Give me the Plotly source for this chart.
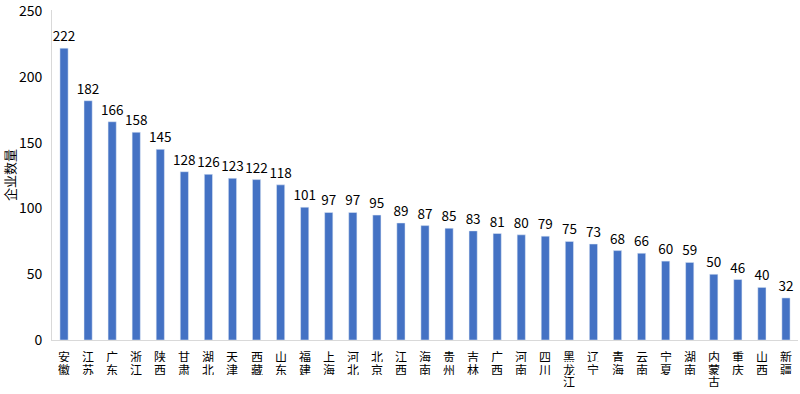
import plotly.graph_objects as go

provinces = ["安徽", "江苏", "广东", "浙江", "陕西", "甘肃", "湖北", "天津", "西藏", "山东",
             "福建", "上海", "河北", "北京", "江西", "海南", "贵州", "吉林", "广西", "河南",
             "四川", "黑龙江", "辽宁", "青海", "云南", "宁夏", "湖南", "内蒙古", "重庆", "山西", "新疆"]
counts = [222, 182, 166, 158, 145, 128, 126, 123, 122, 118,
          101, 97, 97, 95, 89, 87, 85, 83, 81, 80,
          79, 75, 73, 68, 66, 60, 59, 50, 46, 40, 32]
y_ticks = [0, 50, 100, 150, 200, 250]
y_title = "企业数量"

font_family = "Noto Sans CJK SC, Microsoft YaHei, sans-serif"

fig = go.Figure(go.Bar(
    x=list(range(len(provinces))),
    y=counts,
    marker_color="#4472C4",
    width=0.34,
    text=[str(v) for v in counts],
    textposition="outside",
    constraintext="none",
    textfont=dict(size=13.5, color="#000000", family=font_family),
    cliponaxis=False,
))

# vertical (stacked upright) category labels
annotations = []
for i, p in enumerate(provinces):
    for j, ch in enumerate(p):
        annotations.append(dict(
            x=i, y=0, xref="x", yref="paper",
            text=ch, showarrow=False,
            xanchor="center", yanchor="top",
            height=12, borderpad=0,
            yshift=-9 - 12.5 * j,
            font=dict(size=12, color="#000000", family=font_family),
        ))

fig.update_layout(
    width=800, height=394,
    margin=dict(l=52, r=2, t=10, b=54),
    plot_bgcolor="white", paper_bgcolor="white",
    showlegend=False,
    font=dict(family=font_family, color="#000000"),
    annotations=annotations,
    xaxis=dict(
        range=[-0.5, len(provinces) - 0.5],
        showline=True, linecolor="#D9D9D9", linewidth=1,
        ticks="", showgrid=False, showticklabels=False,
        automargin=False, zeroline=False,
    ),
    yaxis=dict(
        range=[0, 251],
        tickmode="array",
        tickvals=y_ticks,
        ticktext=[str(t) for t in y_ticks],
        showline=True, linecolor="#D9D9D9", linewidth=1,
        showgrid=False, zeroline=False,
        ticks="outside", ticklen=6, tickcolor="rgba(0,0,0,0)",
        tickfont=dict(size=14, color="#000000"),
        title=dict(text=y_title, font=dict(size=13, color="#000000"), standoff=2),
        automargin=False,
    ),
)

fig.write_html("out.html", config={"displayModeBar": False},
               post_script="document.body.style.margin='0';")
